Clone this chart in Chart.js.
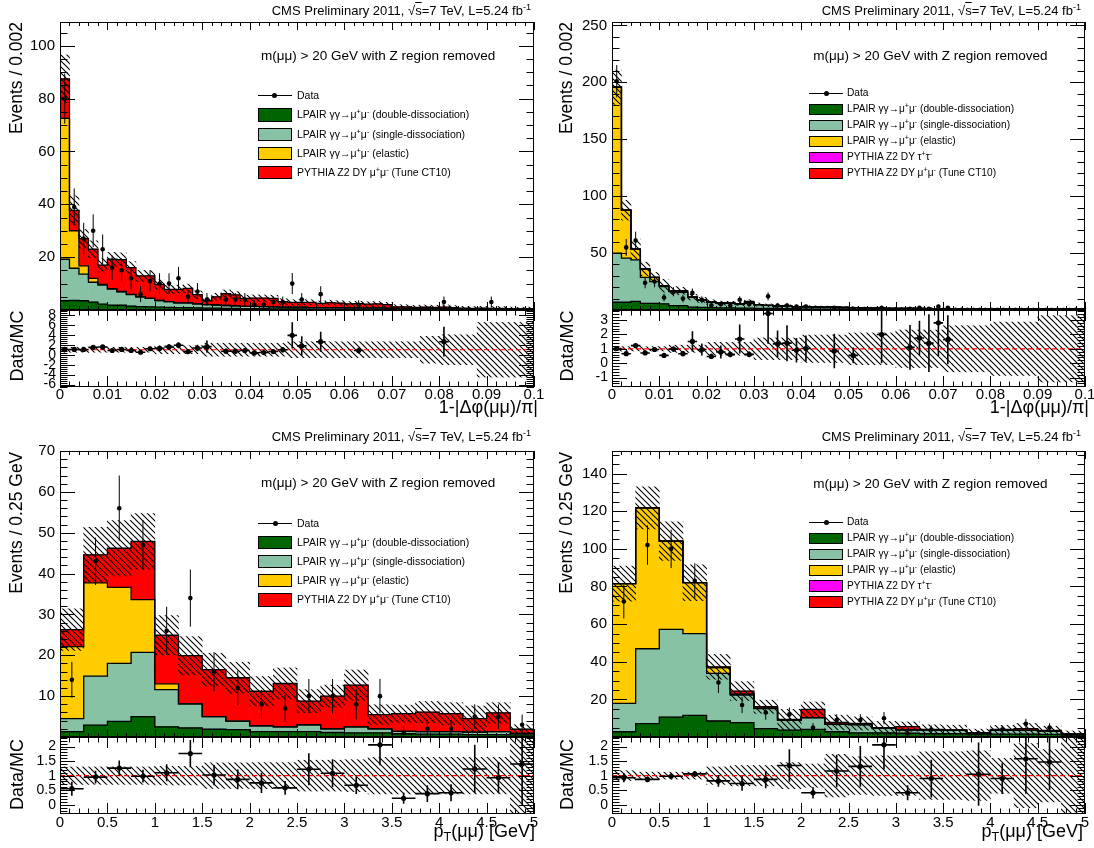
<!DOCTYPE html>
<html><head><meta charset="utf-8"><title>CMS LPAIR dimuon plots</title>
<script src="https://cdn.jsdelivr.net/npm/chart.js@4.4.1/dist/chart.umd.min.js"></script>
<style>
html,body{margin:0;padding:0;background:#fff;}
#wrap{position:relative;width:1094px;height:848px;overflow:hidden;background:#fff;font-family:"Liberation Sans",Arial,Helvetica,sans-serif;color:#000;}
#wrap canvas{position:absolute;left:0;top:0;}
.t{position:absolute;white-space:nowrap;line-height:1;}
.t sup{font-size:0.7em;vertical-align:0.5em;line-height:0;}
.t sub{font-size:0.7em;vertical-align:-0.3em;line-height:0;}
.b{position:absolute;box-sizing:border-box;}
</style></head>
<body><div id="wrap">
<canvas id="tlMain" width="1094" height="848"></canvas>
<canvas id="tlRatio" width="1094" height="848"></canvas>
<canvas id="trMain" width="1094" height="848"></canvas>
<canvas id="trRatio" width="1094" height="848"></canvas>
<canvas id="blMain" width="1094" height="848"></canvas>
<canvas id="blRatio" width="1094" height="848"></canvas>
<canvas id="brMain" width="1094" height="848"></canvas>
<canvas id="brRatio" width="1094" height="848"></canvas>
</div>
<script>
// ================= DATA =================
const PHI_EDGES = [0,0.002,0.004,0.006,0.008,0.01,0.012,0.014,0.016,0.018,0.02,0.022,0.024,0.026,0.028,0.03,0.032,0.034,0.036,0.038,0.04,0.042,0.044,0.046,0.048,0.05,0.052,0.054,0.056,0.058,0.06,0.062,0.064,0.066,0.068,0.07,0.072,0.074,0.076,0.078,0.08,0.082,0.084,0.086,0.088,0.09,0.092,0.094,0.096,0.098,0.1];
const PT_EDGES = [0,0.25,0.5,0.75,1,1.25,1.5,1.75,2,2.25,2.5,2.75,3,3.25,3.5,3.75,4,4.25,4.5,4.75,5];

// ---- top-left: 1-|dphi|/pi, DY mu mu ----
const TL_DD = [3.5,3.6,3.5,3.0,2.2,1.8,1.8,1.5,1.3,1.2, 1.1,1.0,0.9,0.9,0.8,0.7,0.7,0.6,0.6,0.5, 0.5,0.5,0.4,0.4,0.4,0.4,0.3,0.3,0.3,0.3, 0.3,0.3,0.3,0.3,0.2,0.2,0.2,0.2,0.2,0.2, 0.2,0.2,0.1,0.1,0.1,0.1,0.1,0.1,0.1,0.1];
const TL_SD = [15.7,12.2,10.1,7.5,7.2,6.1,5.1,4.3,3.7,3.2, 2.5,2.2,1.8,1.8,1.5,1.3,1.2,1.1,1.0,0.9, 0.9,0.8,0.8,0.7,0.7,0.7,0.6,0.6,0.6,0.6, 0.5,0.5,0.5,0.5,0.5,0.4,0.4,0.4,0.4,0.4, 0.3,0.3,0.3,0.3,0.3,0.3,0.3,0.2,0.2,0.2];
const TL_EL = [53.3,14.2,3.1,1.5,0.3,0.2,0.1,0.1,0,0, 0,0,0,0,0,0,0,0,0,0, 0,0,0,0,0,0,0,0,0,0, 0,0,0,0,0,0,0,0,0,0, 0,0,0,0,0,0,0,0,0,0];
const TL_DY = [15.0,7.7,10.3,11.0,7.3,11.1,12.1,10.1,7.9,8.5, 6.1,4.6,5.1,5.5,3.5,1.5,3.1,4.5,4.1,3.0, 3.1,3.2,3.2,2.1,1.8,1.8,2.0,1.6,1.9,1.7, 1.5,1.6,1.4,1.5,1.3,0.6,0.6,0.4,0.5,0.4, 0.6,0.4,0.3,0.2,0.3,0.2,0.2,0.2,0.1,0.2];
const TL_MCERR = [9.0,5.5,3.5,3.2,2.6,2.6,2.5,2.3,2.1,2.0, 1.8,1.6,1.6,1.6,1.4,1.2,1.3,1.4,1.3,1.2, 1.2,1.2,1.2,1.1,1.0,1.0,1.0,0.9,0.9,0.9, 0.9,0.9,0.9,0.9,0.9,0.8,0.8,0.8,0.8,0.8, 0.8,0.8,0.7,0.7,0.7,0.7,0.7,0.6,0.6,0.6];
const TL_DATA = [80,39,27,30,23,16,15,12,6,11, 10,10,12,5,7,4,null,4,4,4, 2,2,3,3,10,4,null,6,null,null, null,2,null,null,null,null,null,null,null,null, 3,null,null,null,null,3,null,null,null,null];
const TL_DATA_ERR = [9.5,7.0,6.0,6.2,5.6,4.6,4.5,4.2,3.0,4.0, 3.9,3.9,4.3,2.6,3.2,2.4,0,2.4,2.4,2.4, 1.7,1.7,2.1,2.1,4.0,2.4,0,3.0,0,0, 0,1.7,0,0,0,0,0,0,0,0, 2.1,0,0,0,0,2.1,0,0,0,0];
const TL_RATIO = [1.06,1.06,1.06,1.49,1.56,0.85,1.06,0.85,0.5,1.2, 1.27,1.56,1.91,0.64,1.34,1.62,null,0.71,0.71,0.85, 0.36,0.43,0.64,1.0,3.9,1.77,null,2.62,null,null, null,0.85,null,null,null,null,null,null,null,null, 2.62,null,null,null,null,null,null,null,null,null];
const TL_RATIO_ERR = [0.15,0.2,0.25,0.35,0.35,0.35,0.4,0.4,0.3,0.45, 0.45,0.55,0.6,0.45,0.65,1.25,0,0.5,0.5,0.5, 0.3,0.35,0.45,0.55,2.65,1.95,0,2.0,0,0, 0,0.6,0,0,0,0,0,0,0,0, 3.0,0,0,0,0,0,0,0,0,0];
const TL_BAND = [0.5,0.5,0.5,0.5,0.5,0.5,0.5,0.5,0.5,0.5, 0.8,0.8,0.8,0.8,0.8,1.3,1.3,1.3,1.3,1.3, 1.3,1.3,1.3,1.3,1.6,1.6,1.6,1.6,1.6,1.6, 1.6,1.6,1.6,1.6,1.6,1.6,1.6,1.6,2.7,2.7, 3.0,3.0,3.0,3.0,5.5,5.5,5.5,5.5,5.5,5.5];

// ---- top-right: 1-|dphi|/pi, LPAIR dominated ----
const TR_DD = [6.8,6.8,7.6,5.9,5.9,5.4,3.9,3.9,2.5,2.3, 2.0,1.9,1.8,1.7,1.6,1.5,1.4,1.3,1.2,1.2, 0.8,0.8,0.7,0.7,0.6,0.6,0.5,0.5,0.5,0.5, 0.4,0.4,0.4,0.4,0.4,0.4,0.3,0.3,0.3,0.3, 0.3,0.3,0.3,0.3,0.3,0.3,0.3,0.3,0.3,0.3];
const TR_SD = [43.2,38.8,36.5,22.8,19.0,15.1,12.2,11.6,8.7,6.6, 4.9,4.1,4.2,3.7,4.4,3.3,2.6,2.2,2.1,1.8, 2.0,1.9,1.8,1.7,1.6,1.4,1.3,1.2,1.1,1.0, 1.0,0.9,0.9,0.8,0.8,0.8,0.8,0.7,0.7,0.7, 0.7,0.7,0.7,0.6,0.6,0.6,0.6,0.6,0.6,0.6];
const TR_EL = [145.7,42.1,9.4,7.3,3.8,0.9,0.4,0.2,0.1,0, 0,0,0,0,0,0,0,0,0,0, 0,0,0,0,0,0,0,0,0,0, 0,0,0,0,0,0,0,0,0,0, 0,0,0,0,0,0,0,0,0,0];
const TR_TT = [0,0,0,0,0,0,0,0,0,0, 0,0,0,0,0,0,0,0,0,0, 0,0,0,0,0,0,0,0,0,0, 0,0,0,0,0,0,0,0,0,0, 0,0,0,0,0,0,0,0,0,0];
const TR_DY = [0,0,0,0,0,0,0.3,1.2,0,0, 0,0,0,0,1.5,0,0,0,0,0, 0,0,0,0,0,0,0,0,0,0, 0,0,0,0,0,0,0,0,0,0, 0,0,0,0,0,0,0,0,0,0];
const TR_MCERR = [15,8.7,8.8,6.0,4.3,5.6,3.8,3.0,2.5,2.2, 2.0,1.8,1.6,1.5,1.6,1.4,1.3,1.2,1.2,1.1, 1.0,1.0,0.9,0.9,0.9,0.9,0.8,0.8,0.8,0.8, 0.8,0.8,0.8,0.8,0.8,0.8,0.8,0.8,0.8,0.8, 0.8,0.8,0.8,0.8,0.8,0.8,0.8,0.8,0.8,0.8];
const TR_DATA = [201,55,61,24,25,11,16,10,15,9, 4,5,4,9,5,null,12,4,4,3, 3,null,null,2,null,1,null,null,2,null, null,1,2,1,3,2,null,null,null,null, null,null,null,null,null,null,null,null,null,null];
const TR_DATA_ERR = [14.2,7.4,7.8,4.9,5.0,3.3,4.0,3.2,3.9,3.0, 2.0,2.2,2.0,3.0,2.2,0,3.5,2.0,2.0,1.7, 1.7,0,0,1.4,0,1.0,0,0,1.4,0, 0,1.0,1.4,1.0,1.7,1.4,0,0,0,0, 0,0,0,0,0,0,0,0,0,0];
const TR_RATIO = [1.02,0.66,1.22,0.71,0.95,0.54,0.98,0.66,1.51,0.95, 0.47,0.78,0.61,1.68,0.61,null,3.45,1.34,1.39,0.9, 1.02,null,null,0.85,null,0.54,null,null,1.99,null, null,1.1,1.75,1.39,2.8,1.63,null,null,null,null, null,null,null,null,null,null,null,null,null,null];
const TR_RATIO_ERR = [0.08,0.08,0.1,0.1,0.12,0.12,0.18,0.18,0.7,0.42, 0.18,0.45,0.2,1.0,0.2,0,2.1,0.93,1.25,0.85, 0.9,0,0,1.2,0,0.55,0,0,2.0,0, 0,1.55,1.2,2.0,2.3,1.7,0,0,0,0, 0,0,0,0,0,0,0,0,0,0];
const TR_BAND = [0.15,0.15,0.15,0.15,0.15,0.15,0.25,0.25,0.25,0.25, 0.45,0.45,0.45,0.45,0.45,0.75,0.75,0.75,0.75,0.75, 0.95,0.95,0.95,0.95,0.95,1.1,1.1,1.1,1.1,1.1, 1.3,1.3,1.3,1.3,1.3,1.6,1.6,1.6,1.6,1.6, 1.85,1.85,1.85,1.85,1.85,2.3,2.3,2.3,2.3,2.3];

// ---- bottom-left: pT(mumu), DY mu mu ----
const BL_DD = [1.3,2.9,3.8,5.0,2.5,2.2,1.9,1.8,1.3,1.3, 1.3,1.1,1.0,1.0,0.8,0.7,0.7,0.6,0.6,0.5];
const BL_SD = [3.2,12.0,14.2,15.7,9.1,5.9,3.1,2.1,1.4,1.2, 1.7,0.9,1.5,1.0,0.6,0.6,0.6,0.6,0.7,0.4];
const BL_EL = [17.6,22.8,18.6,12.9,1.4,0,0,0,0,0, 0,0,0,0,0,0,0,0,0,0];
const BL_DY = [4.2,6.9,9.6,14.3,11.9,11.8,11.5,10.6,8.5,10.6, 5.8,8.0,10.2,3.5,4.3,4.8,4.4,3.3,4.6,1.0];
const BL_MCERR = [5.1,6.7,6.8,6.8,4.8,4.7,4.0,3.8,3.6,3.8, 2.8,2.7,3.7,2.4,2.1,2.6,2.7,3.1,2.5,1.1];
const BL_DATA = [14,43,56,47,26,34,16,12,8,7, 10,10,8,10,1,2,2,5,5,3];
const BL_DATA_ERR = [4.4,5.8,8.0,6.1,5.9,7.0,4.8,4.2,3.5,3.3, 4.2,4.2,3.7,4.2,1.8,2.2,2.2,3.0,3.0,2.5];
const BL_RATIO = [0.55,0.95,1.26,0.98,1.1,1.76,1.02,0.87,0.75,0.58, 1.22,1.08,0.67,2.06,0.22,0.38,0.41,1.23,0.93,1.4];
const BL_RATIO_ERR = [0.24,0.22,0.26,0.22,0.29,0.47,0.35,0.34,0.35,0.24, 0.55,0.48,0.3,0.7,0.19,0.29,0.29,0.83,0.54,1.4];
const BL_BAND = [0.3,0.3,0.3,0.3,0.32,0.32,0.44,0.44,0.45,0.45, 0.53,0.53,0.55,0.63,0.63,0.63,0.63,0.63,0.63,1.7];

// ---- bottom-right: pT(mumu), LPAIR dominated ----
const BR_DD = [2.8,7.1,10.6,11.5,8.5,7.6,4.4,3.7,4.0,2.8, 2.2,2.2,2.0,1.8,1.8,1.6,1.5,1.5,1.4,1.0];
const BR_SD = [15.1,39.8,46.6,43.4,25.3,14.7,10.7,5.3,6.3,3.9, 4.4,2.6,1.8,2.0,1.7,0.6,2.0,2.0,1.8,0.5];
const BR_EL = [63.6,74.9,46.9,27.1,3.1,0.5,0.2,0,0,0, 0,0,0,0,0,0,0,0,0,0];
const BR_TT = [0,0,0,0,0,0,0,0,0,0, 0,0,0,0,0,0,0,0,0,0];
const BR_DY = [0,0,0,0,0.4,1.6,0.8,0.3,4.4,1.0, 0.6,0,1.7,0.2,0.3,0,0.5,0.9,0.3,0.2];
const BR_MCERR = [9.3,11.2,10.3,9.5,6.6,5.0,3.5,5.4,3.9,3.9, 3.5,3.5,2.5,2.5,2.5,2.0,2.2,2.8,2.2,1.5];
const BR_DATA = [72,102,100,83,29,17,13,12,5,9, 9,10,2,4,null,2,4,7,5,null];
const BR_DATA_ERR = [9.0,10.5,10.2,9.3,5.6,4.3,3.8,3.6,2.4,3.1, 3.1,3.3,1.5,2.1,0,1.5,2.1,2.7,2.3,0];
const BR_RATIO = [0.93,0.87,0.98,1.06,0.82,0.73,0.87,1.35,0.41,1.16, 1.32,2.06,0.41,0.9,null,1.05,0.9,1.58,1.47,null];
const BR_RATIO_ERR = [0.16,0.1,0.1,0.1,0.2,0.25,0.3,0.56,0.2,0.56, 0.7,0.85,0.26,0.65,0,1.09,0.53,1.2,0.96,0];
const BR_BAND = [0.17,0.12,0.12,0.12,0.3,0.35,0.35,0.45,0.4,0.73, 0.65,0.68,0.68,0.82,0.82,0.85,0.6,1.1,0.9,1.7];

// ---- text ----
const LBL_DATA = 'Data';
const LBL_DD = 'LPAIR γγ→μ<sup>+</sup>μ<sup>-</sup> (double-dissociation)';
const LBL_SD = 'LPAIR γγ→μ<sup>+</sup>μ<sup>-</sup> (single-dissociation)';
const LBL_EL = 'LPAIR γγ→μ<sup>+</sup>μ<sup>-</sup> (elastic)';
const LBL_TT = 'PYTHIA Z2 DY τ<sup>+</sup>τ<sup>-</sup>';
const LBL_DY = 'PYTHIA Z2 DY μ<sup>+</sup>μ<sup>-</sup> (Tune CT10)';
const TXT_CMS = 'CMS Preliminary 2011, √<span style="text-decoration:overline">s</span>=7 TeV, L=5.24 fb<sup>-1</sup>';
const TXT_SEL = 'm(μμ) &gt; 20 GeV with Z region removed';
const TXT_XPHI = '1-|Δφ(μμ)/π|';
const TXT_XPT = 'p<sub>T</sub>(μμ) [GeV]';
const TXT_YPHI = 'Events / 0.002';
const TXT_YPT = 'Events / 0.25 GeV';
const TXT_RATIO = 'Data/MC';

// ================= STYLE / LAYOUT =================
const W = 1094, H = 848, YW = 50, XH = 24;
const COL = {dd:'#006400', sd:'#88c2a4', el:'#ffcc00', tt:'#ff00ff', dy:'#ff0000'};
Chart.defaults.font.family = "'Liberation Sans', Arial, Helvetica, sans-serif";
Chart.defaults.color = '#000';
Chart.defaults.animation = false;

function hatchPattern() {
  const s = 6, c = document.createElement('canvas');
  c.width = s; c.height = s;
  const g = c.getContext('2d');
  g.strokeStyle = '#000'; g.lineWidth = 1.1;
  g.beginPath();
  g.moveTo(0, 0); g.lineTo(s, s);
  g.moveTo(-1, s - 1); g.lineTo(1, s + 1);
  g.moveTo(s - 1, -1); g.lineTo(s + 1, 1);
  g.stroke();
  return g.createPattern(c, 'repeat');
}
const HATCH = hatchPattern();
const fmt = v => String(Math.round(v * 1e6) / 1e6);
const centersOf = e => e.slice(0, -1).map((x, i) => (x + e[i + 1]) / 2);

const rootFrame = {
  id: 'rootFrame',
  afterDraw(chart, args, o) {
    if (!o || !o.xMajor) return;
    const ctx = chart.ctx, a = chart.chartArea, xs = chart.scales.x, ys = chart.scales.y;
    const each = (min, max, minor, major, fn) => {
      const k0 = Math.ceil(min / minor - 1e-6), k1 = Math.floor(max / minor + 1e-6);
      for (let k = k0; k <= k1; k++) { const v = k * minor, q = v / major; fn(v, Math.abs(q - Math.round(q)) < 1e-6); }
    };
    ctx.save();
    ctx.strokeStyle = '#000'; ctx.lineWidth = 1;
    ctx.beginPath();
    each(xs.min, xs.max, o.xMinor, o.xMajor, (v, maj) => {
      const p = Math.round(xs.getPixelForValue(v)) + 0.5, L = maj ? o.xL1 : o.xL2;
      ctx.moveTo(p, a.bottom); ctx.lineTo(p, a.bottom - L);
      ctx.moveTo(p, a.top); ctx.lineTo(p, a.top + L);
    });
    each(ys.min, ys.max, o.yMinor, o.yMajor, (v, maj) => {
      const p = Math.round(ys.getPixelForValue(v)) + 0.5, L = maj ? o.yL1 : o.yL2;
      ctx.moveTo(a.left, p); ctx.lineTo(a.left + L, p);
      ctx.moveTo(a.right, p); ctx.lineTo(a.right - L, p);
    });
    ctx.stroke();
    const l = Math.round(a.left), t = Math.round(a.top), r = Math.round(a.right), b = Math.round(a.bottom);
    ctx.strokeRect(l + 0.5, t + 0.5, r - l - 1, b - t - 1);
    ctx.restore();
  }
};
const errBars = {
  id: 'errBars',
  afterDatasetsDraw(chart) {
    const ctx = chart.ctx, a = chart.chartArea, xs = chart.scales.x, ys = chart.scales.y;
    chart.data.datasets.forEach(ds => {
      if (!ds.errBars) return;
      ctx.save();
      ctx.beginPath(); ctx.rect(a.left, a.top, a.right - a.left, a.bottom - a.top); ctx.clip();
      ctx.strokeStyle = '#000'; ctx.lineWidth = ds.errWidth || 1;
      ctx.beginPath();
      ds.data.forEach(p => {
        const px = xs.getPixelForValue(p.x), py = ys.getPixelForValue(p.y);
        if (p.ey) { ctx.moveTo(px, ys.getPixelForValue(p.y + p.ey)); ctx.lineTo(px, ys.getPixelForValue(p.y - p.ey)); }
        if (p.ex) { ctx.moveTo(xs.getPixelForValue(p.x - p.ex), py); ctx.lineTo(xs.getPixelForValue(p.x + p.ex), py); }
      });
      ctx.stroke();
      ctx.restore();
    });
  }
};
Chart.register(rootFrame, errBars);

function baseOptions(f, xh, frameOpts) {
  return {
    responsive: false, animation: false, events: [], devicePixelRatio: 1,
    layout: {padding: {left: f.l - YW, top: f.t, right: W - f.r, bottom: H - f.b - xh}},
    plugins: {legend: {display: false}, tooltip: {enabled: false}, rootFrame: frameOpts}
  };
}

function mainChart(id, f, edges, comps, mcErr, data, dataErr, ax) {
  const n = edges.length - 1, ctr = centersOf(edges);
  const tot = ctr.map((_, i) => comps.reduce((s, c) => s + c.v[i], 0));
  const pts = [];
  data.forEach((v, i) => { if (v !== null) pts.push({x: ctr[i], y: v, ey: dataErr[i]}); });
  const datasets = [
    {type: 'scatter', stack: 'pts', data: pts, pointRadius: 2.3, pointBackgroundColor: '#000', pointBorderWidth: 0, errBars: true, errWidth: 1},
    {type: 'bar', yAxisID: 'yb', data: ctr.map((x, i) => ({x, y: [tot[i] - mcErr[i], tot[i] + mcErr[i]]})),
     backgroundColor: HATCH, borderWidth: 0, grouped: false, barPercentage: 1, categoryPercentage: 1}
  ];
  comps.forEach(c => datasets.push({type: 'line', stack: 'outline',
    data: edges.map((e, i) => ({x: e, y: c.v[Math.min(i, n - 1)]})),
    stepped: true, borderColor: '#000', borderWidth: 1.3, pointRadius: 0, fill: false}));
  comps.forEach(c => datasets.push({type: 'bar', stack: 'mc', data: ctr.map((x, i) => ({x, y: c.v[i]})),
    backgroundColor: c.c, borderWidth: 0, grouped: false, barPercentage: 1, categoryPercentage: 1}));
  const o = baseOptions(f, 0, {xMajor: ax.xMajor, xMinor: ax.xMinor, yMajor: ax.yMajor, yMinor: ax.yMinor, xL1: 8, xL2: 4, yL1: 15, yL2: 7.5});
  o.scales = {
    x: {type: 'linear', min: edges[0], max: edges[n], offset: false, grid: {display: false, drawTicks: false}, border: {display: false},
        ticks: {display: false, stepSize: ax.xMajor}, afterFit: s => { s.height = 0; s.paddingLeft = 0; s.paddingRight = 0; }},
    y: {type: 'linear', stacked: true, min: 0, max: ax.yMax, grid: {display: false, drawTicks: false}, border: {display: false},
        ticks: {stepSize: ax.yMajor, includeBounds: false, padding: 5, font: {size: 15}, color: '#000', callback: v => v === 0 ? '' : fmt(v)},
        afterFit: s => { s.width = YW; s.paddingTop = 0; s.paddingBottom = 0; }},
    yb: {type: 'linear', display: false, min: 0, max: ax.yMax}
  };
  new Chart(document.getElementById(id), {type: 'bar', data: {datasets}, options: o});
}

function ratioChart(id, f, edges, r, rErr, band, ax) {
  const n = edges.length - 1, ctr = centersOf(edges);
  const pts = [];
  r.forEach((v, i) => { if (v !== null) pts.push({x: ctr[i], y: v, ey: rErr[i], ex: (edges[i + 1] - edges[i]) / 2}); });
  const datasets = [
    {type: 'scatter', data: pts, pointRadius: 2.6, pointBackgroundColor: '#000', pointBorderWidth: 0, errBars: true, errWidth: 1.6},
    {type: 'line', data: [{x: edges[0], y: 1}, {x: edges[n], y: 1}], borderColor: '#ff0000', borderWidth: 1.2, borderDash: [5, 3], pointRadius: 0, fill: false},
    {type: 'bar', data: ctr.map((x, i) => ({x, y: [1 - band[i], 1 + band[i]]})), backgroundColor: HATCH, borderWidth: 0, grouped: false, barPercentage: 1, categoryPercentage: 1}
  ];
  const o = baseOptions(f, XH, {xMajor: ax.xMajor, xMinor: ax.xMinor, yMajor: ax.yMajor, yMinor: ax.yMinor, xL1: 11, xL2: 5.5, yL1: 15, yL2: 7.5});
  o.scales = {
    x: {type: 'linear', min: edges[0], max: edges[n], offset: false, grid: {display: false, drawTicks: false}, border: {display: false},
        ticks: {stepSize: ax.xMajor, includeBounds: false, autoSkip: false, maxRotation: 0, padding: ax.xPad, font: {size: 15}, color: '#000', callback: v => fmt(v)},
        afterFit: s => { s.height = XH; s.paddingLeft = 0; s.paddingRight = 0; }},
    y: {type: 'linear', min: ax.yMin, max: ax.yMax, grid: {display: false, drawTicks: false}, border: {display: false},
        ticks: {stepSize: ax.yMajor, includeBounds: false, autoSkip: false, padding: 4, font: {size: 14}, color: '#000', callback: v => fmt(v)},
        afterFit: s => { s.width = YW; s.paddingTop = 0; s.paddingBottom = 0; }}
  };
  new Chart(document.getElementById(id), {type: 'bar', data: {datasets}, options: o});
}

// ================= CHARTS =================
mainChart('tlMain', {l: 60, t: 22, r: 534, b: 310}, PHI_EDGES,
  [{v: TL_DD, c: COL.dd}, {v: TL_SD, c: COL.sd}, {v: TL_EL, c: COL.el}, {v: TL_DY, c: COL.dy}],
  TL_MCERR, TL_DATA, TL_DATA_ERR, {yMax: 109, yMajor: 20, yMinor: 5, xMajor: 0.01, xMinor: 0.002});
ratioChart('tlRatio', {l: 60, t: 310, r: 534, b: 387}, PHI_EDGES, TL_RATIO, TL_RATIO_ERR, TL_BAND,
  {yMin: -6.5, yMax: 9, yMajor: 2, yMinor: 0.4, xMajor: 0.01, xMinor: 0.002, xPad: -1});

mainChart('trMain', {l: 612, t: 22, r: 1085, b: 310}, PHI_EDGES,
  [{v: TR_DD, c: COL.dd}, {v: TR_SD, c: COL.sd}, {v: TR_EL, c: COL.el}, {v: TR_TT, c: COL.tt}, {v: TR_DY, c: COL.dy}],
  TR_MCERR, TR_DATA, TR_DATA_ERR, {yMax: 253, yMajor: 50, yMinor: 10, xMajor: 0.01, xMinor: 0.002});
ratioChart('trRatio', {l: 612, t: 310, r: 1085, b: 387}, PHI_EDGES, TR_RATIO, TR_RATIO_ERR, TR_BAND,
  {yMin: -1.65, yMax: 3.69, yMajor: 1, yMinor: 0.2, xMajor: 0.01, xMinor: 0.002, xPad: -1});

mainChart('blMain', {l: 60, t: 451, r: 534, b: 737}, PT_EDGES,
  [{v: BL_DD, c: COL.dd}, {v: BL_SD, c: COL.sd}, {v: BL_EL, c: COL.el}, {v: BL_DY, c: COL.dy}],
  BL_MCERR, BL_DATA, BL_DATA_ERR, {yMax: 70, yMajor: 10, yMinor: 2, xMajor: 0.5, xMinor: 0.1});
ratioChart('blRatio', {l: 60, t: 737, r: 534, b: 814}, PT_EDGES, BL_RATIO, BL_RATIO_ERR, BL_BAND,
  {yMin: -0.32, yMax: 2.33, yMajor: 0.5, yMinor: 0.1, xMajor: 0.5, xMinor: 0.1, xPad: 0});

mainChart('brMain', {l: 612, t: 451, r: 1085, b: 737}, PT_EDGES,
  [{v: BR_DD, c: COL.dd}, {v: BR_SD, c: COL.sd}, {v: BR_EL, c: COL.el}, {v: BR_TT, c: COL.tt}, {v: BR_DY, c: COL.dy}],
  BR_MCERR, BR_DATA, BR_DATA_ERR, {yMax: 152, yMajor: 20, yMinor: 5, xMajor: 0.5, xMinor: 0.1});
ratioChart('brRatio', {l: 612, t: 737, r: 1085, b: 814}, PT_EDGES, BR_RATIO, BR_RATIO_ERR, BR_BAND,
  {yMin: -0.32, yMax: 2.33, yMajor: 0.5, yMinor: 0.1, xMajor: 0.5, xMinor: 0.1, xPad: 0});

// ================= TEXT OVERLAYS =================
const wrap = document.getElementById('wrap');
function el(cls, html, st) {
  const d = document.createElement('div');
  d.className = cls; d.innerHTML = html || '';
  for (const k in st) d.style[k] = (typeof st[k] === 'number') ? st[k] + 'px' : st[k];
  wrap.appendChild(d); return d;
}
function textAt(html, left, cy, fs) { return el('t', html, {left: left, top: cy - 0.53 * fs, fontSize: fs}); }
function textRight(html, right, cy, fs) { return el('t', html, {right: W - right, top: cy - 0.53 * fs, fontSize: fs}); }
function rotText(html, cx, yEnd, yStart, fs) {
  return el('t', html, {left: cx - 0.55 * fs, top: yStart, width: yStart - yEnd, textAlign: 'right', fontSize: fs, transformOrigin: '0 0', transform: 'rotate(-90deg)'});
}
function legend(L) {
  L.rows.forEach((cy, i) => {
    const e = L.entries[i];
    if (e.c === null) {
      el('b', '', {left: L.boxL, top: cy - 0.5, width: L.boxW, height: 1, background: '#000'});
      el('b', '', {left: L.boxL + L.boxW / 2 - 2.5, top: cy - 2.5, width: 5, height: 5, borderRadius: '50%', background: '#000'});
    } else {
      el('b', '', {left: L.boxL, top: cy - L.boxH / 2, width: L.boxW, height: L.boxH, background: e.c, border: '1px solid #000'});
    }
    textAt(e.t, L.textL, cy, L.fs);
  });
}
const ENT4 = [{t: LBL_DATA, c: null}, {t: LBL_DD, c: COL.dd}, {t: LBL_SD, c: COL.sd}, {t: LBL_EL, c: COL.el}, {t: LBL_DY, c: COL.dy}];
const ENT5 = [{t: LBL_DATA, c: null}, {t: LBL_DD, c: COL.dd}, {t: LBL_SD, c: COL.sd}, {t: LBL_EL, c: COL.el}, {t: LBL_TT, c: COL.tt}, {t: LBL_DY, c: COL.dy}];

// top-left
textRight(TXT_CMS, 531, 10.5, 13);
textAt(TXT_SEL, 261, 55.7, 13.5);
legend({boxL: 258, boxW: 33.5, boxH: 13.4, textL: 297, fs: 10.5, rows: [95.8, 115, 134.3, 153.4, 172.5], entries: ENT4});
rotText(TXT_YPHI, 17.5, 22, 310, 17.5);
rotText(TXT_RATIO, 17.5, 310.5, 387, 18);
textRight(TXT_XPHI, 538, 408, 18);
// top-right
textRight(TXT_CMS, 1081, 10.5, 13);
textAt(TXT_SEL, 813.3, 55.7, 13.5);
legend({boxL: 809, boxW: 34, boxH: 11, textL: 847, fs: 10.2, rows: [93.7, 109.5, 125.5, 141.8, 157.8, 173.8], entries: ENT5});
rotText(TXT_YPHI, 567.5, 22, 310, 17.5);
rotText(TXT_RATIO, 567.5, 310.5, 387, 18);
textRight(TXT_XPHI, 1089, 408, 18);
// bottom-left
textRight(TXT_CMS, 531, 437, 13);
textAt(TXT_SEL, 261, 483.3, 13.5);
legend({boxL: 258, boxW: 34, boxH: 13.6, textL: 297, fs: 10.5, rows: [523.3, 542.5, 561.7, 580.7, 599.8], entries: ENT4});
rotText(TXT_YPT, 18, 451.7, 737, 17.5);
rotText(TXT_RATIO, 18, 739, 814, 18);
textRight(TXT_XPT, 535, 832, 18);
// bottom-right
textRight(TXT_CMS, 1081, 436.5, 13);
textAt(TXT_SEL, 813.3, 484.3, 13.5);
legend({boxL: 809, boxW: 34, boxH: 11.3, textL: 847, fs: 10.2, rows: [522.3, 538.3, 554.3, 570.3, 586, 602], entries: ENT5});
rotText(TXT_YPT, 568, 451.7, 737, 17.5);
rotText(TXT_RATIO, 568, 739, 814, 18);
textRight(TXT_XPT, 1083, 832, 18);
</script></body></html>
